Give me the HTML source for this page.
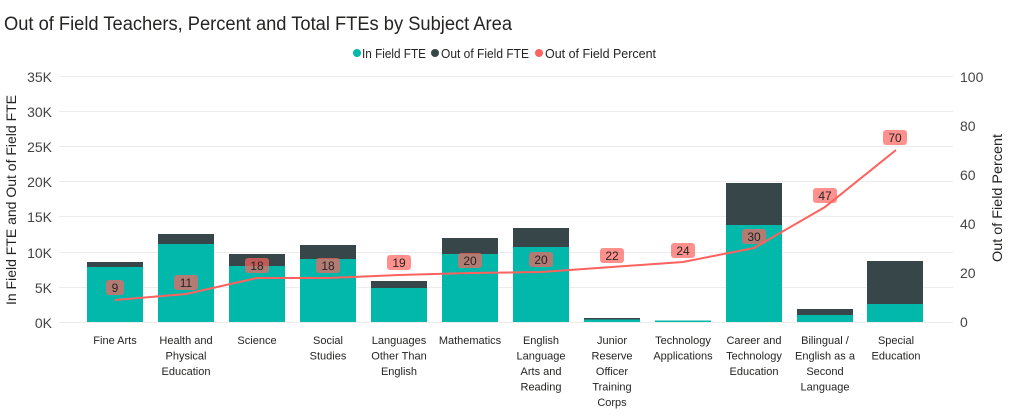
<!DOCTYPE html>
<html><head><meta charset="utf-8"><style>
html,body{margin:0;padding:0;background:#fff;}
svg{display:block;font-family:"Liberation Sans",sans-serif;}
</style></head><body>
<svg width="1012" height="417" viewBox="0 0 1012 417" xmlns="http://www.w3.org/2000/svg">
<text x="4" y="30" font-size="19" fill="#252423" textLength="508" lengthAdjust="spacingAndGlyphs">Out of Field Teachers, Percent and Total FTEs by Subject Area</text>
<g font-size="12.5" fill="#252423">
<circle cx="357" cy="53" r="4" fill="#01B8AA"/><text x="362" y="58" textLength="64" lengthAdjust="spacingAndGlyphs">In Field FTE</text>
<circle cx="435" cy="53" r="4" fill="#374649"/><text x="441" y="58" textLength="88" lengthAdjust="spacingAndGlyphs">Out of Field FTE</text>
<circle cx="539" cy="53" r="4" fill="#FD625E"/><text x="545" y="58" textLength="111" lengthAdjust="spacingAndGlyphs">Out of Field Percent</text>
</g>
<g stroke="#ececec" stroke-width="1">
<line x1="59" x2="953" y1="76.5" y2="76.5"/><line x1="59" x2="953" y1="111.5" y2="111.5"/><line x1="59" x2="953" y1="146.5" y2="146.5"/><line x1="59" x2="953" y1="181.5" y2="181.5"/><line x1="59" x2="953" y1="216.5" y2="216.5"/><line x1="59" x2="953" y1="252.5" y2="252.5"/><line x1="59" x2="953" y1="287.5" y2="287.5"/><line x1="59" x2="953" y1="322.5" y2="322.5"/>
</g>
<g font-size="14" fill="#444" text-anchor="end">
<text x="52" y="82">35K</text><text x="52" y="117">30K</text><text x="52" y="152">25K</text><text x="52" y="187">20K</text><text x="52" y="222">15K</text><text x="52" y="258">10K</text><text x="52" y="293">5K</text><text x="52" y="328">0K</text>
</g>
<g font-size="14" fill="#444">
<text x="960" y="82">100</text><text x="960" y="131">80</text><text x="960" y="180">60</text><text x="960" y="229">40</text><text x="960" y="278">20</text><text x="960" y="327">0</text>
</g>
<text transform="translate(16,200) rotate(-90)" font-size="14" fill="#252423" text-anchor="middle" textLength="210" lengthAdjust="spacingAndGlyphs">In Field FTE and Out of Field FTE</text>
<text transform="translate(1002,198) rotate(-90)" font-size="14" fill="#252423" text-anchor="middle" textLength="128" lengthAdjust="spacingAndGlyphs">Out of Field Percent</text>
<g>
<rect x="87" y="262" width="56" height="5" fill="#374649"/><rect x="87" y="267" width="56" height="55" fill="#01B8AA"/>
<rect x="158" y="234" width="56" height="10" fill="#374649"/><rect x="158" y="244" width="56" height="78" fill="#01B8AA"/>
<rect x="229" y="254" width="56" height="12" fill="#374649"/><rect x="229" y="266" width="56" height="56" fill="#01B8AA"/>
<rect x="300" y="245" width="56" height="14" fill="#374649"/><rect x="300" y="259" width="56" height="63" fill="#01B8AA"/>
<rect x="371" y="281" width="56" height="7" fill="#374649"/><rect x="371" y="288" width="56" height="34" fill="#01B8AA"/>
<rect x="442" y="238" width="56" height="16" fill="#374649"/><rect x="442" y="254" width="56" height="68" fill="#01B8AA"/>
<rect x="513" y="228" width="56" height="19" fill="#374649"/><rect x="513" y="247" width="56" height="75" fill="#01B8AA"/>
<rect x="584" y="318" width="56" height="1.5" fill="#374649"/><rect x="584" y="319.5" width="56" height="2.5" fill="#01B8AA"/>
<rect x="655" y="320.5" width="56" height="1.5" fill="#01B8AA"/>
<rect x="726" y="183" width="56" height="42" fill="#374649"/><rect x="726" y="225" width="56" height="97" fill="#01B8AA"/>
<rect x="797" y="309" width="56" height="6" fill="#374649"/><rect x="797" y="315" width="56" height="7" fill="#01B8AA"/>
<rect x="867" y="261" width="56" height="43" fill="#374649"/><rect x="867" y="304" width="56" height="18" fill="#01B8AA"/>
</g>
<polyline fill="none" stroke="#FD625E" stroke-width="2" points="115,300 186,294 257,278 328,278 399,275 470,273 541,272 612,267 683,262 754,248 825,207 896,150"/>
<g font-size="12" fill="#252423" text-anchor="middle">
<rect x="106" y="280" width="18" height="15" rx="3" fill="rgba(253,98,94,0.7)"/><text x="115" y="292">9</text>
<rect x="174" y="275" width="24" height="15" rx="3" fill="rgba(253,98,94,0.7)"/><text x="186" y="287">11</text>
<rect x="245" y="258" width="24" height="15" rx="3" fill="rgba(253,98,94,0.7)"/><text x="257" y="270">18</text>
<rect x="316" y="258" width="24" height="15" rx="3" fill="rgba(253,98,94,0.7)"/><text x="328" y="270">18</text>
<rect x="387" y="255" width="24" height="15" rx="3" fill="rgba(253,98,94,0.7)"/><text x="399" y="267">19</text>
<rect x="458" y="253" width="24" height="15" rx="3" fill="rgba(253,98,94,0.7)"/><text x="470" y="265">20</text>
<rect x="529" y="252" width="24" height="15" rx="3" fill="rgba(253,98,94,0.7)"/><text x="541" y="264">20</text>
<rect x="600" y="248" width="24" height="15" rx="3" fill="rgba(253,98,94,0.7)"/><text x="612" y="260">22</text>
<rect x="671" y="243" width="24" height="15" rx="3" fill="rgba(253,98,94,0.7)"/><text x="683" y="255">24</text>
<rect x="742" y="229" width="24" height="15" rx="3" fill="rgba(253,98,94,0.7)"/><text x="754" y="241">30</text>
<rect x="813" y="188" width="24" height="15" rx="3" fill="rgba(253,98,94,0.7)"/><text x="825" y="200">47</text>
<rect x="883" y="130" width="24" height="15" rx="3" fill="rgba(253,98,94,0.7)"/><text x="895" y="142">70</text>
</g>
<g font-size="11" fill="#252423" text-anchor="middle">
<text x="115" y="344">Fine Arts</text>
<text x="186" y="344">Health and<tspan x="186" dy="15.5">Physical</tspan><tspan x="186" dy="15.5">Education</tspan></text>
<text x="257" y="344">Science</text>
<text x="328" y="344">Social<tspan x="328" dy="15.5">Studies</tspan></text>
<text x="399" y="344">Languages<tspan x="399" dy="15.5">Other Than</tspan><tspan x="399" dy="15.5">English</tspan></text>
<text x="470" y="344">Mathematics</text>
<text x="541" y="344">English<tspan x="541" dy="15.5">Language</tspan><tspan x="541" dy="15.5">Arts and</tspan><tspan x="541" dy="15.5">Reading</tspan></text>
<text x="612" y="344">Junior<tspan x="612" dy="15.5">Reserve</tspan><tspan x="612" dy="15.5">Officer</tspan><tspan x="612" dy="15.5">Training</tspan><tspan x="612" dy="15.5">Corps</tspan></text>
<text x="683" y="344">Technology<tspan x="683" dy="15.5">Applications</tspan></text>
<text x="754" y="344">Career and<tspan x="754" dy="15.5">Technology</tspan><tspan x="754" dy="15.5">Education</tspan></text>
<text x="825" y="344">Bilingual /<tspan x="825" dy="15.5">English as a</tspan><tspan x="825" dy="15.5">Second</tspan><tspan x="825" dy="15.5">Language</tspan></text>
<text x="896" y="344">Special<tspan x="896" dy="15.5">Education</tspan></text>
</g>
</svg>
</body></html>
